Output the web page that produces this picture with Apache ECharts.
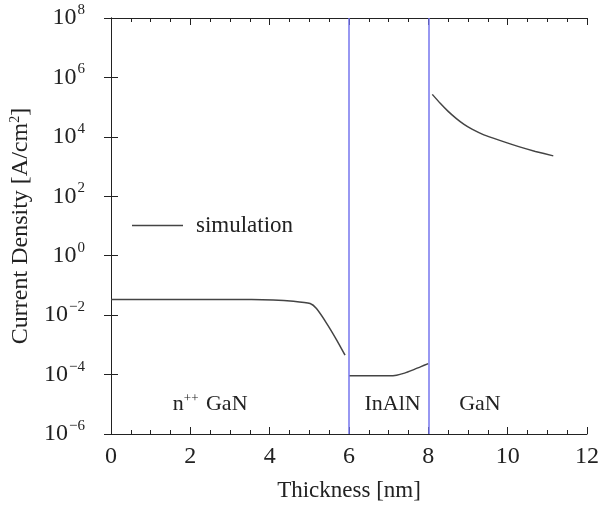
<!DOCTYPE html>
<html>
<head>
<meta charset="utf-8">
<script src="https://cdn.jsdelivr.net/npm/echarts@6/dist/echarts.min.js"></script>
<style>
  html, body { margin: 0; padding: 0; background: #fff; }
  #chart { width: 608px; height: 508px; }
</style>
</head>
<body>
<div id="chart"></div>
<script>
// --- simulated current density, three layers ---
const gan1X = [0, 1, 2, 3, 4.09, 4.6, 5.02, 5.18, 5.44, 5.69, 5.9];
const gan1J = [0.0339, 0.0339, 0.0339, 0.0339, 0.0324, 0.0295, 0.0245, 0.0166, 0.0052, 0.00145, 0.00045];

const inalnX = [6.0, 6.5, 7.0, 7.2, 7.4, 7.6, 7.8, 8.0];
const inalnJ = [9.1e-5, 9.1e-5, 9.1e-5, 9.5e-5, 1.12e-4, 1.41e-4, 1.82e-4, 2.34e-4];

const gan2X = [8.1, 8.3, 8.5, 8.7, 8.9, 9.1, 9.4, 9.8, 10.3, 10.7, 11.15];
const gan2J = [2.69e5, 1.35e5, 7.2e4, 4.2e4, 2.63e4, 1.82e4, 1.17e4, 7.6e3, 4.6e3, 3.24e3, 2.29e3];

// layer boundaries
const interfaces = [6, 8];

// layer names
const layerNames = ['n{sup|++} GaN', 'InAlN', 'GaN'];
const layerX = [2.5, 7.1, 9.3];
const layerY = [1e-5, 1e-5, 1e-5];

const FONT = '"Liberation Serif", "DejaVu Serif", serif';
const INK = '#222';

const chart = echarts.init(document.getElementById('chart'));

function pairs(xs, ys) {
    return xs.map((x, i) => [x, ys[i]]);
}

const lineData = [].concat(
    pairs(gan1X, gan1J), [[5.96, '-']],
    pairs(inalnX, inalnJ), [[8.05, '-']],
    pairs(gan2X, gan2J)
);

function powLabel(v) {
    const e = Math.round(Math.log10(v));
    const s = e < 0 ? '\u2212' + (-e) : String(e);
    return '{b|10}{e|' + s + '}';
}

const xBase = {
    type: 'value', min: 0, max: 12, interval: 2,
    axisLine: { show: true, lineStyle: { color: INK, width: 1 } },
    axisTick: { show: true, inside: true, length: 7, lineStyle: { color: INK } },
    minorTick: { show: true, splitNumber: 4, length: 4, lineStyle: { color: INK } },
    splitLine: { show: false },
    minorSplitLine: { show: false }
};

const yBase = {
    type: 'log', logBase: 10, min: 1e-6, max: 1e8, interval: 2,
    axisLine: { show: true, lineStyle: { color: INK, width: 1 } },
    axisTick: { show: true, inside: true, length: 7, lineStyle: { color: INK } },
    minorTick: { show: false },
    splitLine: { show: false }
};

const option = {
    backgroundColor: '#fff',
    animation: false,
    grid: { left: 111, right: 21, top: 18, bottom: 74, containLabel: false, outerBoundsMode: 'none' },
    legend: {
        data: ['simulation'],
        orient: 'vertical',
        left: 127, top: 209,
        icon: 'rect',
        itemWidth: 51, itemHeight: 1.5,
        itemStyle: { color: '#444', borderWidth: 0 },
        textStyle: { fontFamily: FONT, fontSize: 23, color: INK, padding: [0, 0, 0, 8] }
    },
    xAxis: [
        Object.assign({}, xBase, {
            position: 'bottom',
            name: 'Thickness [nm]', nameLocation: 'middle', nameGap: 45,
            nameTextStyle: { fontFamily: FONT, fontSize: 23, color: INK },
            axisLabel: { fontFamily: FONT, fontSize: 24, color: INK, margin: 11 }
        }),
        Object.assign({}, xBase, { position: 'top', axisLabel: { show: false } })
    ],
    yAxis: [
        Object.assign({}, yBase, {
            position: 'left',
            name: 'Current Density [A/cm{sup|2}]', nameLocation: 'middle', nameGap: 66,
            nameTextStyle: {
                fontFamily: FONT, fontSize: 24, color: INK,
                rich: { sup: { fontFamily: FONT, fontSize: 14, color: INK, padding: [0, 0, 12, 0] } }
            },
            axisLabel: {
                margin: 26,
                formatter: powLabel,
                rich: {
                    b: { fontFamily: FONT, fontSize: 24, color: INK },
                    e: { fontFamily: FONT, fontSize: 15, color: INK, padding: [0, 0, 16, 1] }
                }
            }
        }),
        Object.assign({}, yBase, { position: 'right', axisLabel: { show: false } })
    ],
    series: [
        {
            name: 'simulation',
            type: 'line',
            data: lineData,
            showSymbol: false,
            symbol: 'none',
            smooth: 0.2,
            connectNulls: false,
            lineStyle: { color: '#444', width: 1.5 },
            itemStyle: { color: '#444' },
            markLine: {
                silent: true,
                symbol: ['none', 'none'],
                label: { show: false },
                lineStyle: { color: '#7676ee', width: 1.5, type: 'solid' },
                data: interfaces.map(x => ({ xAxis: x }))
            }
        },
        {
            name: 'layers',
            type: 'scatter',
            symbolSize: 0,
            itemStyle: { opacity: 1 },
            data: layerX.map((x, i) => ({ value: [x, layerY[i]], name: layerNames[i] })),
            label: {
                show: true,
                position: 'inside',
                formatter: p => p.name,
                fontFamily: FONT, fontSize: 22, color: INK, opacity: 1,
                rich: { sup: { fontFamily: FONT, fontSize: 13, color: INK, padding: [0, 2, 12, 0] } }
            }
        }
    ]
};

chart.setOption(option);
</script>
</body>
</html>
